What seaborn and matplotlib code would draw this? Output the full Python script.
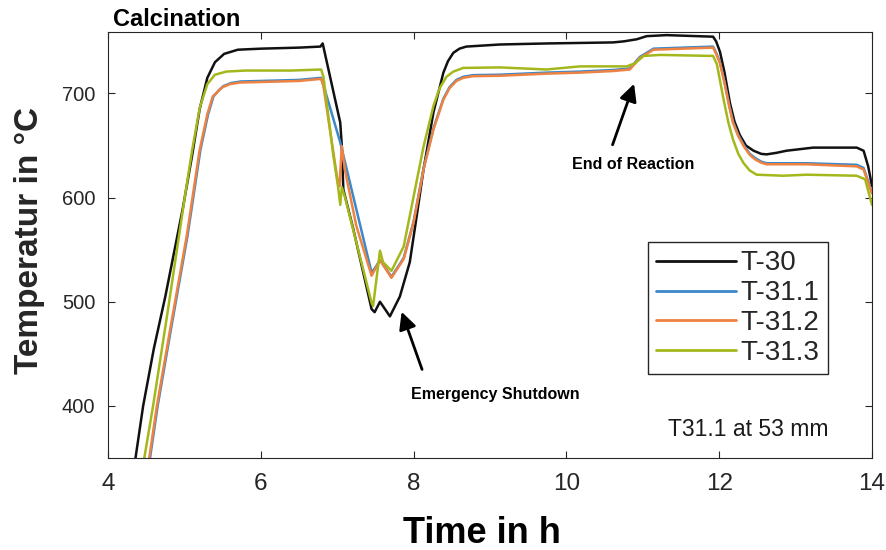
import matplotlib
matplotlib.use("Agg")
import matplotlib.pyplot as plt
import pandas as pd
import seaborn as sns

# ---------------- data ----------------
series_names = ["T-30", "T-31.1", "T-31.2", "T-31.3"]
series_colors = ["#111111", "#3C88C8", "#EE8242", "#A4B81C"]

t30_time = [4.30, 4.46, 4.60, 4.75, 4.98, 5.10, 5.20, 5.30, 5.40, 5.52, 5.70, 6.00, 6.50, 6.78, 6.81,
            7.04, 7.06, 7.08, 7.21, 7.45, 7.49, 7.56, 7.69, 7.82, 7.95, 8.04, 8.13, 8.26, 8.39, 8.45,
            8.52, 8.60, 8.69, 9.13, 9.74, 10.18, 10.61, 10.75, 10.92, 11.05, 11.31, 11.92, 11.96,
            12.01, 12.07, 12.14, 12.20, 12.27, 12.35, 12.45, 12.55, 12.62, 12.75, 12.88, 13.23,
            13.80, 13.89, 13.95, 14.00]
t30_temp = [320, 400, 455, 505, 590, 640, 685, 715, 730, 738, 742, 743, 744, 745, 748,
            672, 650, 608, 570, 493, 490, 500, 486, 505, 538, 582, 627, 682, 720, 731,
            739, 743, 745, 747, 748, 748.5, 749, 750, 752, 755, 756, 754.5, 750,
            740, 720, 691, 673, 660, 650, 645, 642, 641.5, 643, 645, 648,
            648, 645, 630, 611]

t311_time = [4.46, 4.55, 4.65, 4.82, 5.04, 5.21, 5.31, 5.38, 5.45, 5.51, 5.61, 5.74, 6.00, 6.50,
             6.79, 6.82, 7.04, 7.45, 7.50, 7.56, 7.71, 7.87, 8.00, 8.13, 8.26, 8.39, 8.47, 8.56,
             8.65, 8.78, 9.13, 9.74, 10.18, 10.61, 10.83, 10.96, 11.14, 11.92, 11.96, 12.01, 12.07,
             12.13, 12.18, 12.25, 12.32, 12.40, 12.47, 12.55, 12.62, 13.14, 13.80, 13.89, 13.98,
             14.00]
t311_temp = [310, 350, 400, 472, 563, 646, 680, 697, 703, 707, 710, 711.5, 712, 713,
             715, 708, 653, 528, 533, 540, 524, 542, 577, 628, 666.5, 695, 706, 713,
             716, 717.6, 718, 720, 721, 722.5, 724, 735, 743, 745, 739, 730, 711,
             689, 673, 660, 650.5, 642, 638, 634.5, 633, 633, 631.5, 628.5, 609,
             605]

t312_time = [4.45, 4.54, 4.64, 4.81, 5.03, 5.20, 5.30, 5.37, 5.44, 5.50, 5.60, 5.73, 6.00, 6.50,
             6.79, 6.82, 7.01, 7.03, 7.06, 7.10, 7.25, 7.45, 7.56, 7.71, 7.87, 8.00, 8.13, 8.26,
             8.39, 8.47, 8.56, 8.65, 8.78, 9.13, 9.74, 10.18, 10.61, 10.83, 10.96, 11.14, 11.92,
             11.96, 12.01, 12.07, 12.13, 12.18, 12.25, 12.32, 12.40, 12.47, 12.55, 12.62, 13.14,
             13.80, 13.89, 13.98, 14.00]
t312_temp = [310, 350, 400, 472, 563, 646, 680, 697, 702, 706, 709, 710.5, 711, 712,
             714, 707, 614, 611, 649.5, 627, 573, 525, 540, 523, 541, 576, 627, 665.5,
             694, 705, 712, 715, 716.6, 717, 719, 720, 721.5, 723, 734, 742, 744,
             738, 729, 710, 688, 672, 659, 649.5, 641, 636.7, 633.5, 632, 632,
             630, 627, 608, 604]

t313_time = [4.38, 4.475, 4.59, 4.78, 5.00, 5.10, 5.20, 5.30, 5.40, 5.55, 5.80, 6.40, 6.79, 6.82,
             6.95, 7.01, 7.04, 7.06, 7.10, 7.45, 7.47, 7.56, 7.60, 7.71, 7.87, 8.00, 8.13, 8.26,
             8.34, 8.43, 8.52, 8.65, 9.13, 9.74, 10.18, 10.61, 10.79, 10.90, 11.01, 11.23, 11.92,
             11.97, 12.05, 12.12, 12.18, 12.25, 12.32, 12.40, 12.49, 12.84, 13.14, 13.80, 13.91,
             14.00]
t313_temp = [310, 350, 400, 490, 598, 645, 686, 709, 718, 721, 722, 722, 723, 716,
             640, 611, 593, 610, 601, 499, 496, 549, 538, 529.7, 553, 601, 649, 688,
             705, 716, 721, 724.5, 725, 723, 726, 726, 726, 729, 736, 737, 736,
             728, 697, 672, 656, 642, 633, 626, 622, 621, 622, 621, 617.5,
             593]

x_ticks = [4, 6, 8, 10, 12, 14]
y_ticks = [400, 500, 600, 700]

# ---------------- style ----------------
sns.set_theme(style="ticks")
plt.rcParams["font.family"] = ["Liberation Sans", "DejaVu Sans"]

frames = []
for name, t, y in zip(series_names,
                      [t30_time, t311_time, t312_time, t313_time],
                      [t30_temp, t311_temp, t312_temp, t313_temp]):
    frames.append(pd.DataFrame({"time": t, "temp": y, "sensor": name}))
df = pd.concat(frames, ignore_index=True)

fig = plt.figure(figsize=(8.87, 5.5), dpi=100)
ax = fig.add_axes([108 / 887, 1 - 458 / 550, 764 / 887, 426 / 550])

sns.lineplot(data=df, x="time", y="temp", hue="sensor", hue_order=series_names,
             palette=dict(zip(series_names, series_colors)), estimator=None, sort=False,
             linewidth=1.8, ax=ax)

ax.set_xlim(4, 14)
ax.set_ylim(350, 759)
ax.set_xticks(x_ticks)
ax.set_yticks(y_ticks)

edge = "#262626"
for s in ax.spines.values():
    s.set_color(edge)
    s.set_linewidth(0.8)
ax.tick_params(direction="in", top=True, right=True, length=5, width=0.8,
               color=edge, labelcolor=edge)
ax.tick_params(axis="x", labelsize=17.5, pad=11)
ax.tick_params(axis="y", labelsize=14.5, pad=9)

ax.set_xlabel("Time in h", fontsize=26, fontweight="bold", color="black")
ax.xaxis.set_label_coords(0.49, -0.135)
ax.set_ylabel("Temperatur in °C", fontsize=24, fontweight="bold", color="#262626")
ax.yaxis.set_label_coords(-0.083, 0.51)

ax.text(0.007, 1.014, "Calcination", transform=ax.transAxes, ha="left", va="baseline",
        fontsize=17, fontweight="bold", color="black")

handles, labels = ax.get_legend_handles_labels()
leg = ax.legend(handles, labels, loc="upper left", bbox_to_anchor=(0.707, 0.507),
                frameon=True, fancybox=False, edgecolor=edge, framealpha=1,
                fontsize=20, handlelength=2.85, handletextpad=0.18, labelspacing=0.14,
                borderpad=0.3, borderaxespad=0)
leg.get_frame().set_linewidth(1.0)
for line in leg.get_lines():
    line.set_linewidth(2.0)

ax.text(12.38, 377.8, "T31.1 at 53 mm", ha="center", va="center", fontsize=16.5, color="#1a1a1a")

ax.annotate("", xy=(10.898, 711.8), xytext=(10.592, 648.2),
            arrowprops=dict(arrowstyle="-|>", color="black", lw=2, mutation_scale=26))
ax.text(10.87, 632, "End of Reaction", ha="center", va="center", fontsize=11.5,
        fontweight="bold", color="black")

ax.annotate("", xy=(7.831, 492.9), xytext=(8.123, 432.5),
            arrowprops=dict(arrowstyle="-|>", color="black", lw=2, mutation_scale=26))
ax.text(9.07, 411.4, "Emergency Shutdown", ha="center", va="center", fontsize=11.5,
        fontweight="bold", color="black")

fig.savefig("out.png", dpi=100)
